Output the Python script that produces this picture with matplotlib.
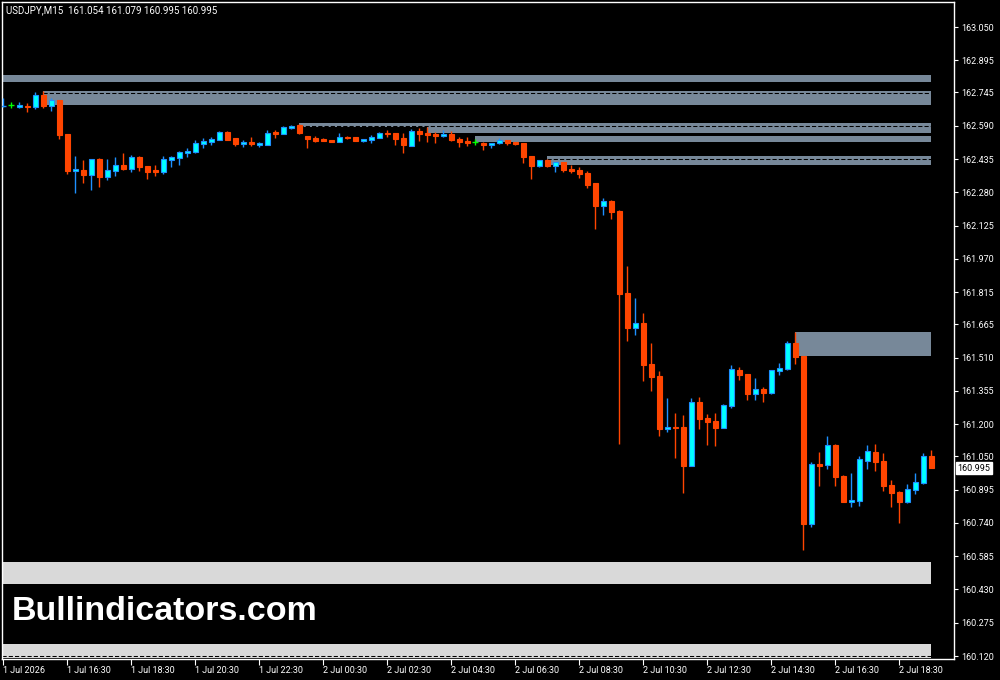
import matplotlib
matplotlib.use("Agg")
import matplotlib.pyplot as plt
from matplotlib.patches import Rectangle
import matplotlib.transforms as mtransforms

symbol = "USDJPY,M15"

opens = [162.680, 162.688, 162.679, 162.683, 162.679, 162.733, 162.683, 162.710, 162.552, 162.381,
         162.384, 162.362, 162.435, 162.353, 162.381, 162.407, 162.389, 162.444, 162.403, 162.384,
         162.376, 162.432, 162.441, 162.465, 162.468, 162.506, 162.516, 162.525, 162.561, 162.533,
         162.505, 162.514, 162.502, 162.502, 162.561, 162.552, 162.581, 162.594, 162.542, 162.533,
         162.527, 162.524, 162.516, 162.538, 162.538, 162.520, 162.524, 162.533, 162.556, 162.556,
         162.533, 162.497, 162.566, 162.556, 162.550, 162.542, 162.552, 162.530, 162.520, 162.516,
         162.511, 162.500, 162.510, 162.524, 162.514, 162.510, 162.449, 162.403, 162.430, 162.403,
         162.421, 162.389, 162.384, 162.370, 162.323, 162.216, 162.240, 162.193, 161.811, 161.648,
         161.671, 161.480, 161.424, 161.178, 161.187, 161.187, 161.007, 161.303, 161.229, 161.215,
         161.184, 161.286, 161.452, 161.434, 161.342, 161.364, 161.347, 161.449, 161.457, 161.578,
         161.519, 160.736, 161.014, 161.011, 161.103, 160.959, 160.837, 160.844, 161.030, 161.070,
         161.028, 160.917, 160.884, 160.839, 160.895, 160.927, 161.054]

highs = [162.717, 162.701, 162.699, 162.696, 162.747, 162.752, 162.721, 162.712, 162.552, 162.449,
         162.430, 162.437, 162.440, 162.435, 162.444, 162.463, 162.454, 162.449, 162.404, 162.407,
         162.449, 162.449, 162.471, 162.485, 162.524, 162.533, 162.538, 162.566, 162.566, 162.533,
         162.524, 162.538, 162.516, 162.570, 162.570, 162.589, 162.595, 162.598, 162.542, 162.542,
         162.532, 162.524, 162.556, 162.544, 162.538, 162.528, 162.547, 162.561, 162.570, 162.556,
         162.556, 162.575, 162.580, 162.584, 162.561, 162.570, 162.566, 162.538, 162.538, 162.528,
         162.516, 162.511, 162.533, 162.526, 162.514, 162.510, 162.449, 162.430, 162.435, 162.421,
         162.421, 162.407, 162.398, 162.379, 162.323, 162.253, 162.244, 162.198, 161.937, 161.788,
         161.718, 161.578, 161.448, 161.322, 161.252, 161.243, 161.322, 161.327, 161.247, 161.252,
         161.294, 161.476, 161.466, 161.434, 161.415, 161.373, 161.452, 161.485, 161.587, 161.629,
         161.519, 161.024, 161.070, 161.145, 161.108, 160.963, 160.973, 161.052, 161.103, 161.108,
         161.066, 160.940, 160.889, 160.921, 160.973, 161.066, 161.079]

lows = [162.677, 162.674, 162.674, 162.654, 162.668, 162.673, 162.660, 162.528, 162.365, 162.278,
        162.325, 162.291, 162.306, 162.337, 162.356, 162.384, 162.376, 162.381, 162.343, 162.356,
        162.365, 162.398, 162.407, 162.446, 162.465, 162.488, 162.502, 162.525, 162.525, 162.497,
        162.492, 162.497, 162.492, 162.502, 162.533, 162.550, 162.576, 162.552, 162.486, 162.514,
        162.518, 162.516, 162.516, 162.527, 162.520, 162.516, 162.510, 162.533, 162.538, 162.500,
        162.463, 162.497, 162.519, 162.514, 162.510, 162.539, 162.519, 162.491, 162.497, 162.500,
        162.477, 162.486, 162.505, 162.500, 162.500, 162.417, 162.342, 162.398, 162.398, 162.375,
        162.375, 162.370, 162.347, 162.300, 162.109, 162.174, 162.156, 161.108, 161.587, 161.615,
        161.401, 161.355, 161.145, 161.164, 161.044, 160.881, 161.007, 161.179, 161.104, 161.100,
        161.184, 161.277, 161.407, 161.314, 161.314, 161.305, 161.342, 161.430, 161.454, 161.482,
        160.615, 160.722, 160.913, 160.993, 160.913, 160.839, 160.816, 160.820, 160.993, 160.983,
        160.890, 160.816, 160.741, 160.834, 160.876, 160.923, 160.995]

closes = [162.683, 162.688, 162.688, 162.677, 162.733, 162.682, 162.710, 162.547, 162.379, 162.389,
          162.361, 162.435, 162.353, 162.384, 162.407, 162.387, 162.444, 162.399, 162.376, 162.376,
          162.435, 162.444, 162.468, 162.474, 162.510, 162.519, 162.528, 162.561, 162.525, 162.506,
          162.516, 162.505, 162.511, 162.556, 162.552, 162.584, 162.590, 162.556, 162.528, 162.519,
          162.520, 162.516, 162.538, 162.532, 162.520, 162.528, 162.538, 162.556, 162.550, 162.528,
          162.500, 162.566, 162.552, 162.547, 162.544, 162.552, 162.524, 162.516, 162.511, 162.516,
          162.500, 162.511, 162.524, 162.510, 162.505, 162.444, 162.403, 162.430, 162.403, 162.421,
          162.384, 162.379, 162.365, 162.314, 162.216, 162.240, 162.188, 161.806, 161.648, 161.671,
          161.476, 161.420, 161.178, 161.187, 161.182, 161.007, 161.303, 161.226, 161.211, 161.184,
          161.289, 161.457, 161.430, 161.342, 161.364, 161.347, 161.452, 161.462, 161.578, 161.514,
          160.736, 161.014, 161.007, 161.103, 160.955, 160.839, 160.847, 161.038, 161.075, 161.025,
          160.913, 160.881, 160.839, 160.898, 160.931, 161.052, 160.995]

time_labels = ["1 Jul 2026", "1 Jul 16:30", "1 Jul 18:30", "1 Jul 20:30", "1 Jul 22:30",
               "2 Jul 00:30", "2 Jul 02:30", "2 Jul 04:30", "2 Jul 06:30", "2 Jul 08:30",
               "2 Jul 10:30", "2 Jul 12:30", "2 Jul 14:30", "2 Jul 16:30", "2 Jul 18:30"]

price_ticks = [163.050, 162.895, 162.745, 162.590, 162.435, 162.280, 162.125, 161.970, 161.815,
               161.665, 161.510, 161.355, 161.200, 161.050, 160.895, 160.740, 160.585, 160.430,
               160.275, 160.120]

current_price = 160.995

# supply / demand zones (start bar, upper price, lower price); -1 = from the left edge
slate_zone_start = [-1, 5, 37, 53, 59, 68, 99]
slate_zone_top = [162.826, 162.752, 162.601, 162.586, 162.542, 162.449, 161.629]
slate_zone_bottom = [162.795, 162.688, 162.586, 162.558, 162.516, 162.407, 161.519]

light_zone_start = [-1, -1]
light_zone_top = [160.558, 160.176]
light_zone_bottom = [160.457, 160.113]

dash_start = [5, 37, 68, -1]
dash_level = [162.741, 162.589, 162.434, 160.120]

watermark = "Bullindicators.com"

# ---------------------------------------------------------------------------
W, H = 1000, 680
fig = plt.figure(figsize=(W / 100, H / 100), dpi=100, facecolor="black")
ax_left, ax_right, ax_top, ax_bot = 2, 954, 2, 659
ax = fig.add_axes([ax_left / W, 1 - ax_bot / H, (ax_right - ax_left) / W, (ax_bot - ax_top) / H])
ax.set_facecolor("black")

n = len(opens)
last = n - 1
x_left = -0.1625
x_right = 118.84
ax.set_xlim(x_left, x_right)
ax.set_ylim(160.1061, 163.1665)

SLATE = "#778899"
LIGHT = "#D9D9D9"

for s, t, b in zip(slate_zone_start, slate_zone_top, slate_zone_bottom):
    x0 = x_left if s < 0 else s
    ax.add_patch(Rectangle((x0, b), last - x0, t - b, facecolor=SLATE, edgecolor="none", zorder=1))
for s, t, b in zip(light_zone_start, light_zone_top, light_zone_bottom):
    x0 = x_left if s < 0 else s
    ax.add_patch(Rectangle((x0, b), last - x0, t - b, facecolor=LIGHT, edgecolor="none", zorder=1))
for s, lv in zip(dash_start, dash_level):
    x0 = x_left if s < 0 else s
    ax.plot([x0, last], [lv, lv], color="black", lw=0.75, dashes=(4, 2), zorder=2)

BULL_BODY = "#00FFFF"
BULL_LINE = "#1E90FF"
BEAR = "#FF4500"
DOJI = "#00FF00"
bw = 0.6
min_h = 0.0035

for i in range(n):
    o, h, l, c = opens[i], highs[i], lows[i], closes[i]
    if c > o:
        line, fill = BULL_LINE, BULL_BODY
    elif c < o:
        line, fill = BEAR, BEAR
    else:
        line, fill = DOJI, DOJI
    ax.vlines(i, l, h, color=line, lw=1.0, zorder=3)
    lo, hi = min(o, c), max(o, c)
    if hi - lo < min_h:
        ax.hlines((o + c) / 2, i - bw / 2 - 0.06, i + bw / 2 + 0.06, color=line, lw=1.0, zorder=4)
    else:
        ax.add_patch(Rectangle((i - bw / 2, lo), bw, hi - lo, facecolor=fill, edgecolor=line,
                               lw=0.8, zorder=4))

# axes styling
for sp in ax.spines.values():
    sp.set_color("white")
    sp.set_linewidth(1.0)

ax.yaxis.tick_right()
ax.set_yticks(price_ticks)
ax.set_yticklabels([f"{p:.3f}" for p in price_ticks])
ax.tick_params(axis="y", colors="white", length=3, width=0.8, pad=2, labelsize=6.5)

ax.set_xticks(range(0, len(time_labels) * 8, 8))
ax.set_xticklabels(time_labels)
ax.tick_params(axis="x", colors="white", length=4, width=0.8, pad=1, labelsize=6.5)
for lab in ax.get_xticklabels():
    lab.set_horizontalalignment("left")
for lab in ax.get_xticklabels() + ax.get_yticklabels():
    lab.set_family(["Roboto", "DejaVu Sans"])

# current price marker
trans = mtransforms.blended_transform_factory(ax.transAxes, ax.transData)
ax.text(1.0 + 3.5 / (ax_right - ax_left), current_price, f"{current_price:.3f}", transform=trans,
        ha="left", va="center", fontsize=6.5, family=["Roboto", "DejaVu Sans"], color="black",
        bbox=dict(facecolor="white", edgecolor="white", pad=1.2), zorder=10, clip_on=False)

# header
fig.text(6 / W, 1 - 10 / H,
         f"{symbol}  {opens[-1]:.3f} {highs[-1]:.3f} {lows[-1]:.3f} {closes[-1]:.3f}",
         color="white", fontsize=7, family=["Roboto", "DejaVu Sans"], va="center", ha="left")

# watermark
fig.text(12 / W, 1 - 611 / H, watermark, color="white", fontsize=24.5, fontweight="bold",
         family=["Liberation Sans", "DejaVu Sans"], va="center", ha="left")

fig.savefig("out.png", dpi=100, facecolor="black")
